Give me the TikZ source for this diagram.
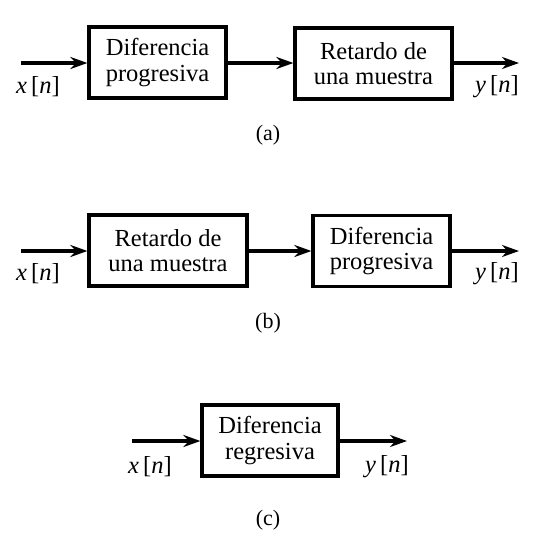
\documentclass[tikz,border=0pt]{standalone}
\usepackage{fontspec}
\setmainfont{Liberation Serif}
\usetikzlibrary{arrows.meta}
\begin{document}
\begin{tikzpicture}[x=1pt,y=-1pt,
  blk/.style={draw,line width=3.2pt,align=center,inner sep=0pt,
    font=\fontsize{24.5}{25.5}\selectfont},
  sig/.style={line width=3.4pt,-{Stealth[length=17pt,width=12pt]}},
  lbl/.style={inner sep=0pt,font=\fontsize{24.5}{26}\selectfont},
  captext/.style={inner sep=0pt,font=\fontsize{22}{24}\selectfont}]
\useasboundingbox (0,0) rectangle (542,552);
% (a)
\node[blk,minimum width=137pt,minimum height=71pt] (a1) at (157.5,62.5) {Diferencia\\progresiva};
\node[blk,minimum width=157pt,minimum height=71pt] (a2) at (373.5,63.5) {Retardo de\\una muestra};
\coordinate (ain) at (21,63);
\coordinate (aout) at (519,63);
\draw[sig] (ain) -- (ain -| a1.west);
\draw[sig] (a1.east |- ain) -- (a2.west |- ain);
\draw[sig] (a2.east |- ain) -- (aout);
\node[lbl] (ax) at (38,87) {\textit{x}\,[\textit{n}]};
\node[lbl] (ay) at (497,87) {\textit{y}\,[\textit{n}]};
\node[captext] (ca) at (268,135) {(a)};
% (b)
\node[blk,minimum width=158pt,minimum height=71pt] (b1) at (168,250.5) {Retardo de\\una muestra};
\node[blk,minimum width=137pt,minimum height=71pt] (b2) at (381.5,251) {Diferencia\\progresiva};
\coordinate (bin) at (21,251);
\coordinate (bout) at (519,251);
\draw[sig] (bin) -- (bin -| b1.west);
\draw[sig] (b1.east |- bin) -- (b2.west |- bin);
\draw[sig] (b2.east |- bin) -- (bout);
\node[lbl] (bx) at (38,274) {\textit{x}\,[\textit{n}]};
\node[lbl] (by) at (497,274) {\textit{y}\,[\textit{n}]};
\node[captext] (cb) at (268,323) {(b)};
% (c)
\node[blk,minimum width=136pt,minimum height=71pt] (c1) at (270,440.5) {Diferencia\\regresiva};
\coordinate (cin) at (132,441);
\coordinate (cout) at (407,441);
\draw[sig] (cin) -- (cin -| c1.west);
\draw[sig] (c1.east |- cin) -- (cout);
\node[lbl] (cx) at (150,467) {\textit{x}\,[\textit{n}]};
\node[lbl] (cy) at (387,467) {\textit{y}\,[\textit{n}]};
\node[captext] (cc) at (268,520) {(c)};
\end{tikzpicture}
\end{document}
